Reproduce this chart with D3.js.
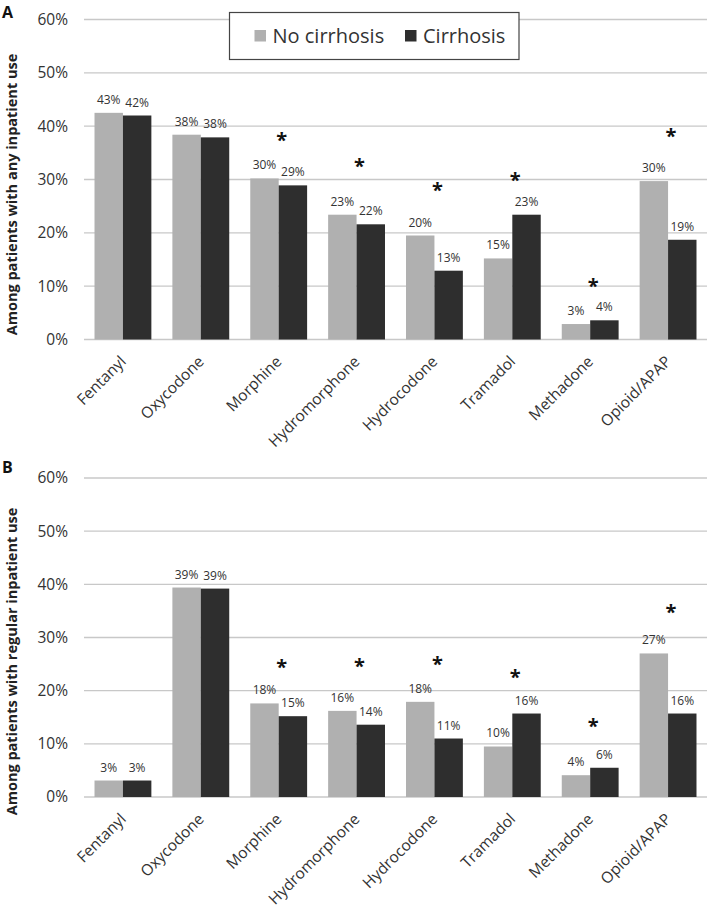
<!DOCTYPE html>
<html>
<head>
<meta charset="utf-8">
<script src="https://cdn.jsdelivr.net/npm/d3@7"></script>
<style>
  html, body { margin: 0; padding: 0; background: #fff; }
  svg { display: block; }
  text { font-family: "Open Sans", sans-serif; }
</style>
</head>
<body>
<svg id="chart" width="709" height="908"></svg>
<script>
// ---------- data ----------
const categories = ["Fentanyl", "Oxycodone", "Morphine", "Hydromorphone", "Hydrocodone", "Tramadol", "Methadone", "Opioid/APAP"];
const seriesNames = ["No cirrhosis", "Cirrhosis"];
const yTicks = [0, 10, 20, 30, 40, 50, 60];

// Panel A: any inpatient use (%)
const anyNoCirrhosis = [42.5, 38.4, 30.2, 23.4, 19.5, 15.2, 2.9, 29.7];
const anyCirrhosis   = [42.0, 37.9, 28.9, 21.6, 12.9, 23.4, 3.6, 18.7];
const anyLabelsNo    = ["43%", "38%", "30%", "23%", "20%", "15%", "3%", "30%"];
const anyLabelsCir   = ["42%", "38%", "29%", "22%", "13%", "23%", "4%", "19%"];
const anySignif      = [null, null, 38.2, 33.3, 28.8, 30.7, 10.7, 38.9];

// Panel B: regular inpatient use (%)
const regNoCirrhosis = [3.1, 39.4, 17.6, 16.2, 17.9, 9.5, 4.1, 27.0];
const regCirrhosis   = [3.1, 39.2, 15.2, 13.6, 11.0, 15.7, 5.5, 15.7];
const regLabelsNo    = ["3%", "39%", "18%", "16%", "18%", "10%", "4%", "27%"];
const regLabelsCir   = ["3%", "39%", "15%", "14%", "11%", "16%", "6%", "16%"];
const regSignif      = [null, null, 25.2, 25.4, 25.7, 23.4, 14.2, 35.6];

const colors = ["#b0b0b0", "#2e2e2e"];

// ---------- layout ----------
const svg = d3.select("#chart");
const xLeft = 84, xRight = 707;

const panels = [
  { letter: "A", title: "Among patients with any inpatient use", top: 19.5, bottom: 339.5,
    values: [anyNoCirrhosis, anyCirrhosis], labels: [anyLabelsNo, anyLabelsCir], sig: anySignif,
    letterY: 18, titleShift: 15, legend: true },
  { letter: "B", title: "Among patients with regular inpatient use", top: 478, bottom: 797,
    values: [regNoCirrhosis, regCirrhosis], labels: [regLabelsNo, regLabelsCir], sig: regSignif,
    letterY: 473, titleShift: 24, legend: false }
];

const x0 = d3.scaleBand().domain(categories).range([xLeft, xRight]).paddingInner(0.27).paddingOuter(0.135);
const x1 = d3.scaleBand().domain(seriesNames).range([0, x0.bandwidth()]);

panels.forEach(p => {
  const g = svg.append("g");
  const y = d3.scaleLinear().domain([0, 60]).range([p.bottom, p.top]);

  // gridlines
  g.append("g").selectAll("line").data(yTicks).join("line")
    .attr("x1", xLeft).attr("x2", xRight)
    .attr("y1", d => y(d)).attr("y2", d => y(d))
    .attr("stroke", "#c8c8c8").attr("stroke-width", 1.4);

  // y axis labels
  const yAxis = d3.axisLeft(y).tickValues(yTicks).tickFormat(d => d + "%").tickSize(0).tickPadding(0);
  const ya = g.append("g").attr("transform", `translate(${xLeft - 16},0)`).call(yAxis);
  ya.select(".domain").remove();
  ya.selectAll("text").attr("font-size", 15.5).attr("fill", "#333").attr("font-family", "Open Sans");

  // bars
  const groups = g.append("g").selectAll("g").data(categories).join("g")
    .attr("transform", d => `translate(${x0(d)},0)`);
  const cells = (c, i) => seriesNames.map((s, k) => ({ s, k, v: p.values[k][i], lab: p.labels[k][i] }));
  groups.selectAll("rect").data(cells).join("rect")
    .attr("x", d => x1(d.s)).attr("width", x1.bandwidth())
    .attr("y", d => y(d.v)).attr("height", d => y(0) - y(d.v))
    .attr("fill", d => colors[d.k]);
  groups.selectAll("text.val").data(cells).join("text").attr("class", "val")
    .attr("x", d => x1(d.s) + x1.bandwidth() / 2)
    .attr("y", d => y(d.v) - 9)
    .attr("text-anchor", "middle").attr("font-size", 12).attr("fill", "#333")
    .text(d => d.lab);

  // significance asterisks
  groups.filter((c, i) => p.sig[i] != null).append("text")
    .attr("x", x0.bandwidth() / 2 + 3)
    .attr("y", c => y(p.sig[categories.indexOf(c)]) + 11)
    .attr("text-anchor", "middle").attr("font-size", 20).attr("font-weight", "bold").attr("fill", "#111")
    .text("*");

  // x axis labels
  g.append("g").selectAll("text").data(categories).join("text")
    .attr("transform", d => `translate(${x0(d) + x0.bandwidth() / 2 + 4},${p.bottom + 23}) rotate(-45)`)
    .attr("text-anchor", "end").attr("font-size", 15.5).attr("fill", "#333")
    .text(d => d);

  // axis title
  g.append("text")
    .attr("transform", `translate(17,${(p.top + p.bottom) / 2 + p.titleShift}) rotate(-90)`)
    .attr("text-anchor", "middle").attr("font-size", 14.5).attr("font-weight", "bold").attr("fill", "#222")
    .text(p.title);

  // panel letter
  g.append("text").attr("x", 2).attr("y", p.letterY)
    .attr("font-size", 16).attr("font-weight", "bold").attr("fill", "#111")
    .attr("font-family", "Liberation Sans, Arial, sans-serif")
    .text(p.letter);

  if (p.legend) {
    const lg = g.append("g");
    lg.append("rect").attr("x", 229.5).attr("y", 12.5).attr("width", 289.5).attr("height", 47)
      .attr("fill", "#fff").attr("stroke", "#444").attr("stroke-width", 1.2);
    const items = lg.selectAll("g").data(seriesNames).join("g")
      .attr("transform", (d, i) => `translate(${i === 0 ? 254.5 : 405},0)`);
    items.append("rect").attr("x", 0).attr("y", 30).attr("width", 11.5).attr("height", 11.5)
      .attr("fill", (d, i) => colors[i]);
    items.append("text").attr("x", 18).attr("y", 43).attr("font-size", 20).attr("fill", "#333")
      .text(d => d);
  }
});
</script>
</body>
</html>
